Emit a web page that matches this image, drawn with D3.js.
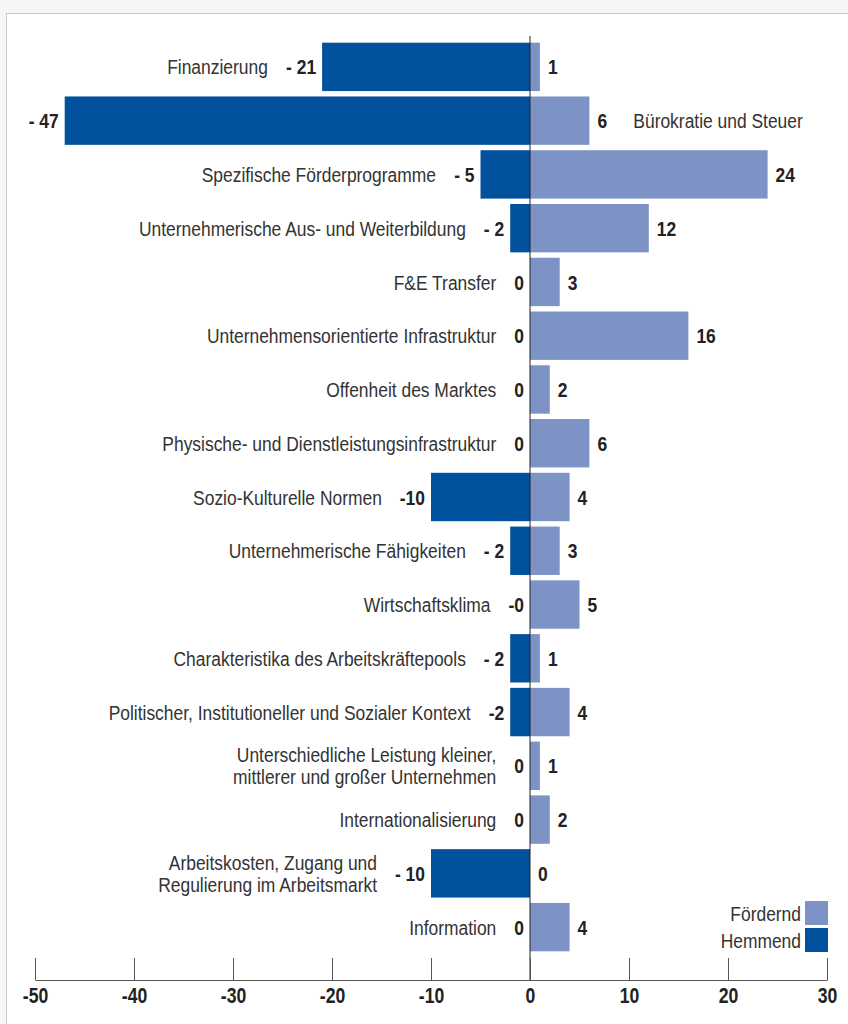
<!DOCTYPE html>
<html>
<head>
<meta charset="utf-8">
<script src="https://cdn.jsdelivr.net/npm/d3@7"></script>
<style>
  body { margin: 0; background: #f5f6f8; }
  svg { display: block; }
  text { font-family: "Liberation Sans", Arial, sans-serif; }
</style>
</head>
<body>
<div id="chart"></div>
<script>
// categories, top to bottom (\n = line break)
var categories = [
  "Finanzierung",
  "Bürokratie und Steuer",
  "Spezifische Förderprogramme",
  "Unternehmerische Aus- und Weiterbildung",
  "F&E Transfer",
  "Unternehmensorientierte Infrastruktur",
  "Offenheit des Marktes",
  "Physische- und Dienstleistungsinfrastruktur",
  "Sozio-Kulturelle Normen",
  "Unternehmerische Fähigkeiten",
  "Wirtschaftsklima",
  "Charakteristika des Arbeitskräftepools",
  "Politischer, Institutioneller und Sozialer Kontext",
  "Unterschiedliche Leistung kleiner,\nmittlerer und großer Unternehmen",
  "Internationalisierung",
  "Arbeitskosten, Zugang und\nRegulierung im Arbeitsmarkt",
  "Information"
];
var hemmend = [-21, -47, -5, -2, 0, 0, 0, 0, -10, -2, 0, -2, -2, 0, 0, -10, 0];
var hemmendLabels = ["- 21", "- 47", "- 5", "- 2", "0", "0", "0", "0", "-10", "- 2", "-0", "- 2", "-2", "0", "0", "- 10", "0"];
var foerdernd = [1, 6, 24, 12, 3, 16, 2, 6, 4, 3, 5, 1, 4, 1, 2, 0, 4];
var xTicks = [-50, -40, -30, -20, -10, 0, 10, 20, 30];
var legendNames = ["Fördernd", "Hemmend"];

var svgWidth = 848;
var svgHeight = 1024;
var colLight = "#7d93c6";
var colDark = "#02519d";

// narrow look: full-size font squeezed horizontally
var fs = 21;
var sx = 0.83;

var svg = d3.select("#chart")
  .append("svg")
  .attr("width", svgWidth)
  .attr("height", svgHeight);

// white frame
svg.append("rect")
  .attr("x", 6.5).attr("y", 13.5)
  .attr("width", 860).attr("height", 1040)
  .attr("fill", "#fff")
  .attr("stroke", "#c8c8c8");

var x = d3.scaleLinear().domain([-50, 30]).range([35, 827]);
var y = d3.scaleBand()
  .domain(d3.range(categories.length))
  .range([40, 954])
  .paddingInner(0.1)
  .paddingOuter(0.05);

var rows = categories.map(function(c, i) {
  return { name: c, neg: hemmend[i], negLabel: hemmendLabels[i], pos: foerdernd[i], i: i };
});

// helper: squeezed text at (tx, ty), returns its on-screen width
function addText(tx, ty, str, anchor, bold, lh) {
  var t = svg.append("text")
    .attr("transform", `translate(${tx},${ty}) scale(${sx},1)`)
    .attr("text-anchor", anchor)
    .attr("font-size", fs)
    .attr("font-weight", bold ? "bold" : "normal")
    .attr("fill", bold ? "#222" : "#333");
  var lines = String(str).split("\n");
  lines.forEach(function(l, k) {
    t.append("tspan")
      .attr("x", 0)
      .attr("y", (k - (lines.length - 1) / 2) * (lh || 22))
      .attr("dy", "0.36em")
      .text(l);
  });
  return t.node().getBBox().width * sx;
}

// bars
svg.selectAll(".neg")
  .data(rows)
  .enter().append("rect")
  .attr("class", "neg")
  .attr("x", d => x(d.neg))
  .attr("y", d => y(d.i))
  .attr("width", d => x(0) - x(d.neg))
  .attr("height", y.bandwidth())
  .attr("fill", colDark);

svg.selectAll(".pos")
  .data(rows)
  .enter().append("rect")
  .attr("class", "pos")
  .attr("x", x(0))
  .attr("y", d => y(d.i))
  .attr("width", d => x(d.pos) - x(0))
  .attr("height", y.bandwidth())
  .attr("fill", colLight);

// zero line
svg.append("line")
  .attr("x1", x(0)).attr("x2", x(0))
  .attr("y1", 36).attr("y2", 980)
  .attr("stroke", "#222")
  .attr("stroke-width", 1);

// value labels + category labels
rows.forEach(function(d) {
  var cy = y(d.i) + y.bandwidth() / 2;
  var pw = addText(x(d.pos) + 8, cy, d.pos, "start", true);
  var negEnd = Math.min(x(d.neg), x(0)) - 6;
  var nw = addText(negEnd, cy, d.negLabel, "end", true);
  if (d.i === 1) {
    // label moved to the right of the positive value
    addText(x(d.pos) + 8 + pw + 26, cy, d.name, "start", false);
  } else {
    addText(negEnd - nw - 18, cy, d.name, "end", false);
  }
});

// x axis, ticks pointing up
var xAxis = svg.append("g")
  .attr("transform", "translate(0, 980)")
  .call(d3.axisBottom(x)
    .tickValues(xTicks)
    .tickFormat(d => String(d))
    .tickSizeInner(-22).tickSizeOuter(0).tickPadding(7));
xAxis.select(".domain").attr("stroke", "#555");
xAxis.selectAll(".tick line").attr("stroke", "#555");
xAxis.selectAll(".tick text")
  .attr("font-family", "Liberation Sans, Arial, sans-serif")
  .attr("font-size", 22)
  .attr("font-weight", "bold")
  .attr("fill", "#222")
  .attr("transform", "scale(0.8,1)");

// legend
legendNames.forEach(function(n, k) {
  var ly = 901 + k * 27;
  svg.append("rect")
    .attr("x", 805).attr("y", ly)
    .attr("width", 23).attr("height", 24)
    .attr("fill", k === 0 ? colLight : colDark);
  addText(801, ly + 12, n, "end", false);
});
</script>
</body>
</html>
